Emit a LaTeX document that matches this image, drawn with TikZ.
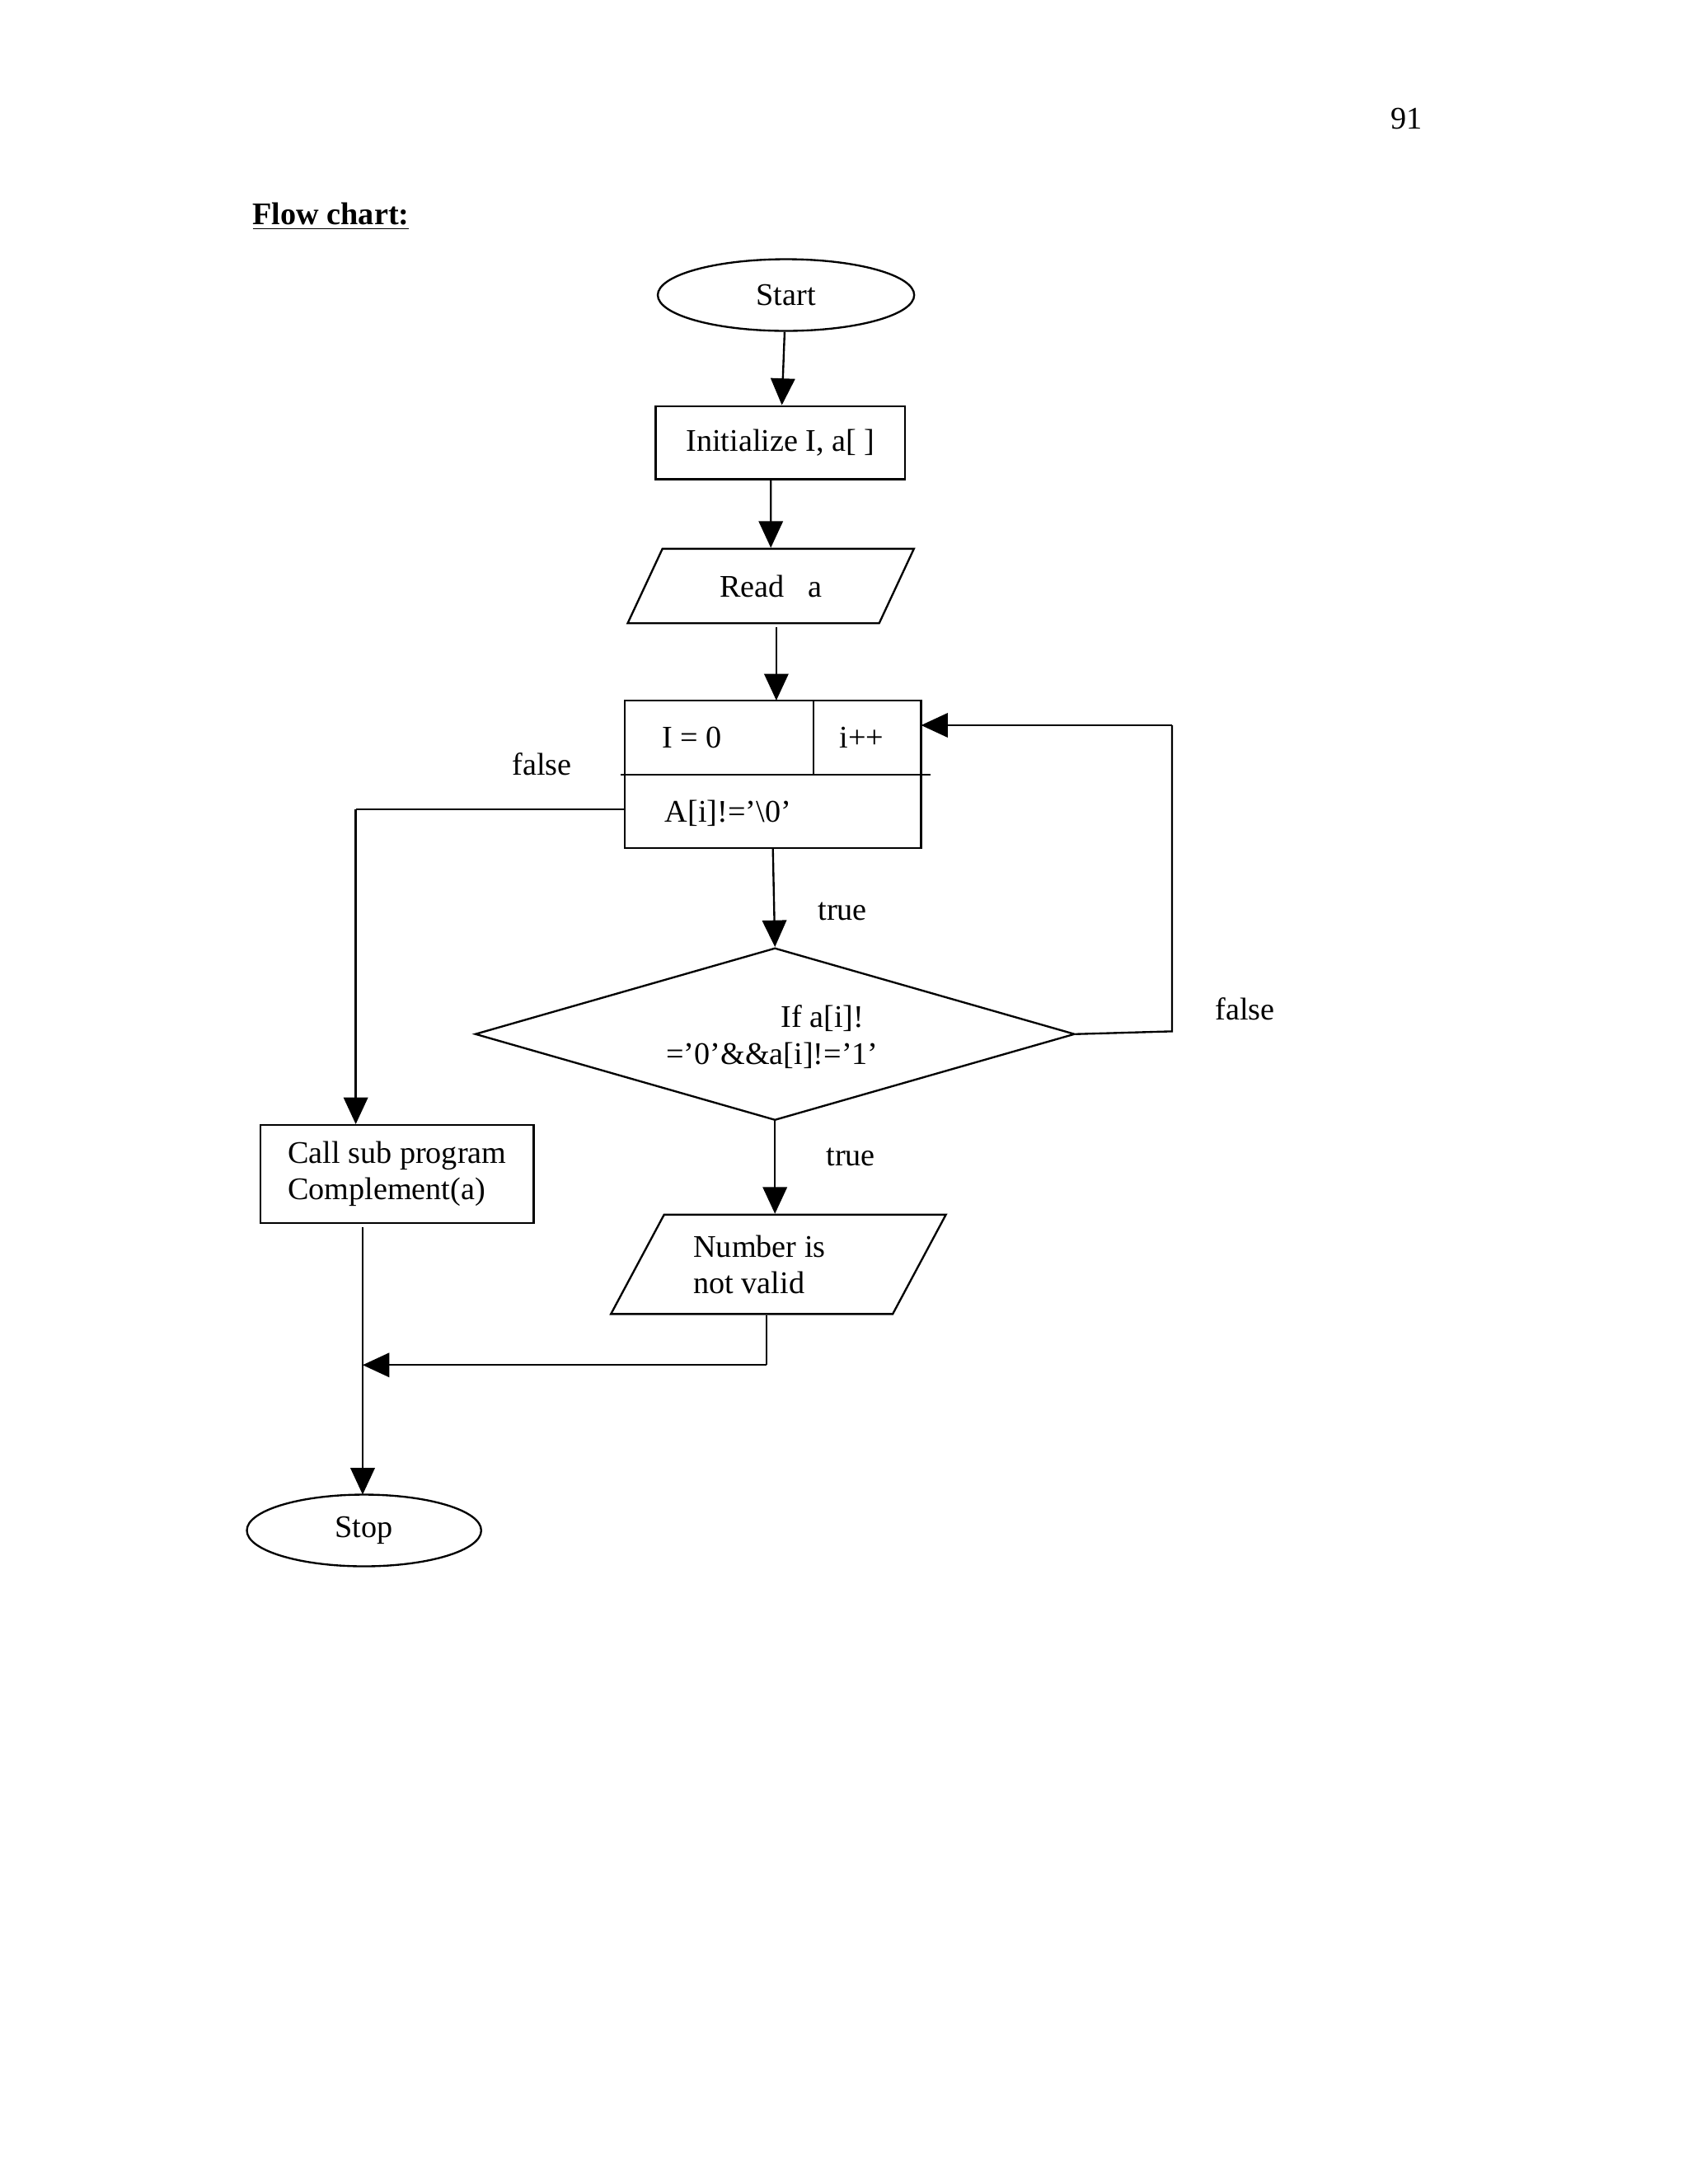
\documentclass[tikz,border=0pt]{standalone}
\usepackage{fontspec}
\setmainfont{Liberation Serif}
\usetikzlibrary{shapes.geometric,arrows.meta}

\begin{document}
\begin{tikzpicture}[x=0.02cm,y=-0.02cm,thick,
  every node/.style={font=\fontsize{13}{15}\selectfont},
  arr/.style={-{Triangle[length=11pt,width=10pt]}},
  term/.style={draw,ellipse,inner sep=0pt},
  proc/.style={draw,rectangle,inner sep=0pt},
  io/.style={draw,trapezium,trapezium stretches=true,inner sep=0pt},
  dec/.style={draw,diamond,inner sep=0pt}]

\useasboundingbox (0,0) rectangle (1224,1584);

\node (page) at (1020,86) {91};
\node[font=\fontsize{13}{15}\selectfont\bfseries] (title) at (240,157) {\underline{Flow chart:}};

\node[term,minimum width=3.72cm,minimum height=1.04cm] (start) at (570,214) {Start};
\node[proc,minimum width=3.62cm,minimum height=1.06cm] (init) at (566,321) {Initialize I, a[ ]};
\node[io,trapezium left angle=53.5,trapezium right angle=126.5,
      minimum width=4.16cm,minimum height=1.08cm] (read) at (559,425) {Read\ \ \ a};

\node[proc,minimum width=4.3cm,minimum height=2.14cm] (loop) at (560.5,561.5) {};
\draw (450,562) -- (675,562);  % split of the loop box
\draw (590,508) -- (590,562);
\node (init0) at (502,535) {I = 0};
\node (incr) at (625,535) {i++};
\node (cond) at (528,590) {A[i]!=’\textbackslash0’};

\node[dec,minimum width=8.7cm,minimum height=2.5cm] (check) at (562,750) {};
\node[align=center] (checktxt) at (560,752) {\hspace*{3.2em}If a[i]!\\=’0’\&\&a[i]!=’1’};

\node[io,trapezium left angle=56,trapezium right angle=124,
      minimum width=4.86cm,minimum height=1.44cm,align=left] (invalid) at (564.5,917)
      {Number is\hspace*{1.2em}\\not valid};

\node[proc,minimum width=3.96cm,minimum height=1.42cm,align=left] (call) at (288,851.5)
      {Call sub program\\Complement(a)};

\node[term,minimum width=3.4cm,minimum height=1.04cm] (stop) at (264,1110) {Stop};

\node (f1) at (393,554) {false};
\node (t1) at (611,661) {true};
\node (f2) at (903,732) {false};
\node (t2) at (617,839) {true};

\coordinate (a1) at (258,587);
\coordinate (b1) at (850,748);
\coordinate (b2) at (850,526);
\coordinate (c1) at (556,990);
\coordinate (c2) at (263,990);

\draw[arr] (start) -- (init);
\draw[arr] (init.south -| read.north) -- (read);
\draw[arr] (563,455) -- (563,508);
\draw (453,587) -- (a1);
\draw[arr] (a1) -- (a1 |- call.north);
\draw[arr] (loop.south) -- (check.north);
\draw (check.east) -- (b1) -- (b2);
\draw[arr] (b2) -- (668,526);
\draw[arr] (check.south) -- (invalid.north -| check.south);
\draw (invalid.south -| c1) -- (c1);
\draw[arr] (c1) -- (c2);
\draw[arr] (263,890) -- (263,1084);
\end{tikzpicture}
\end{document}
